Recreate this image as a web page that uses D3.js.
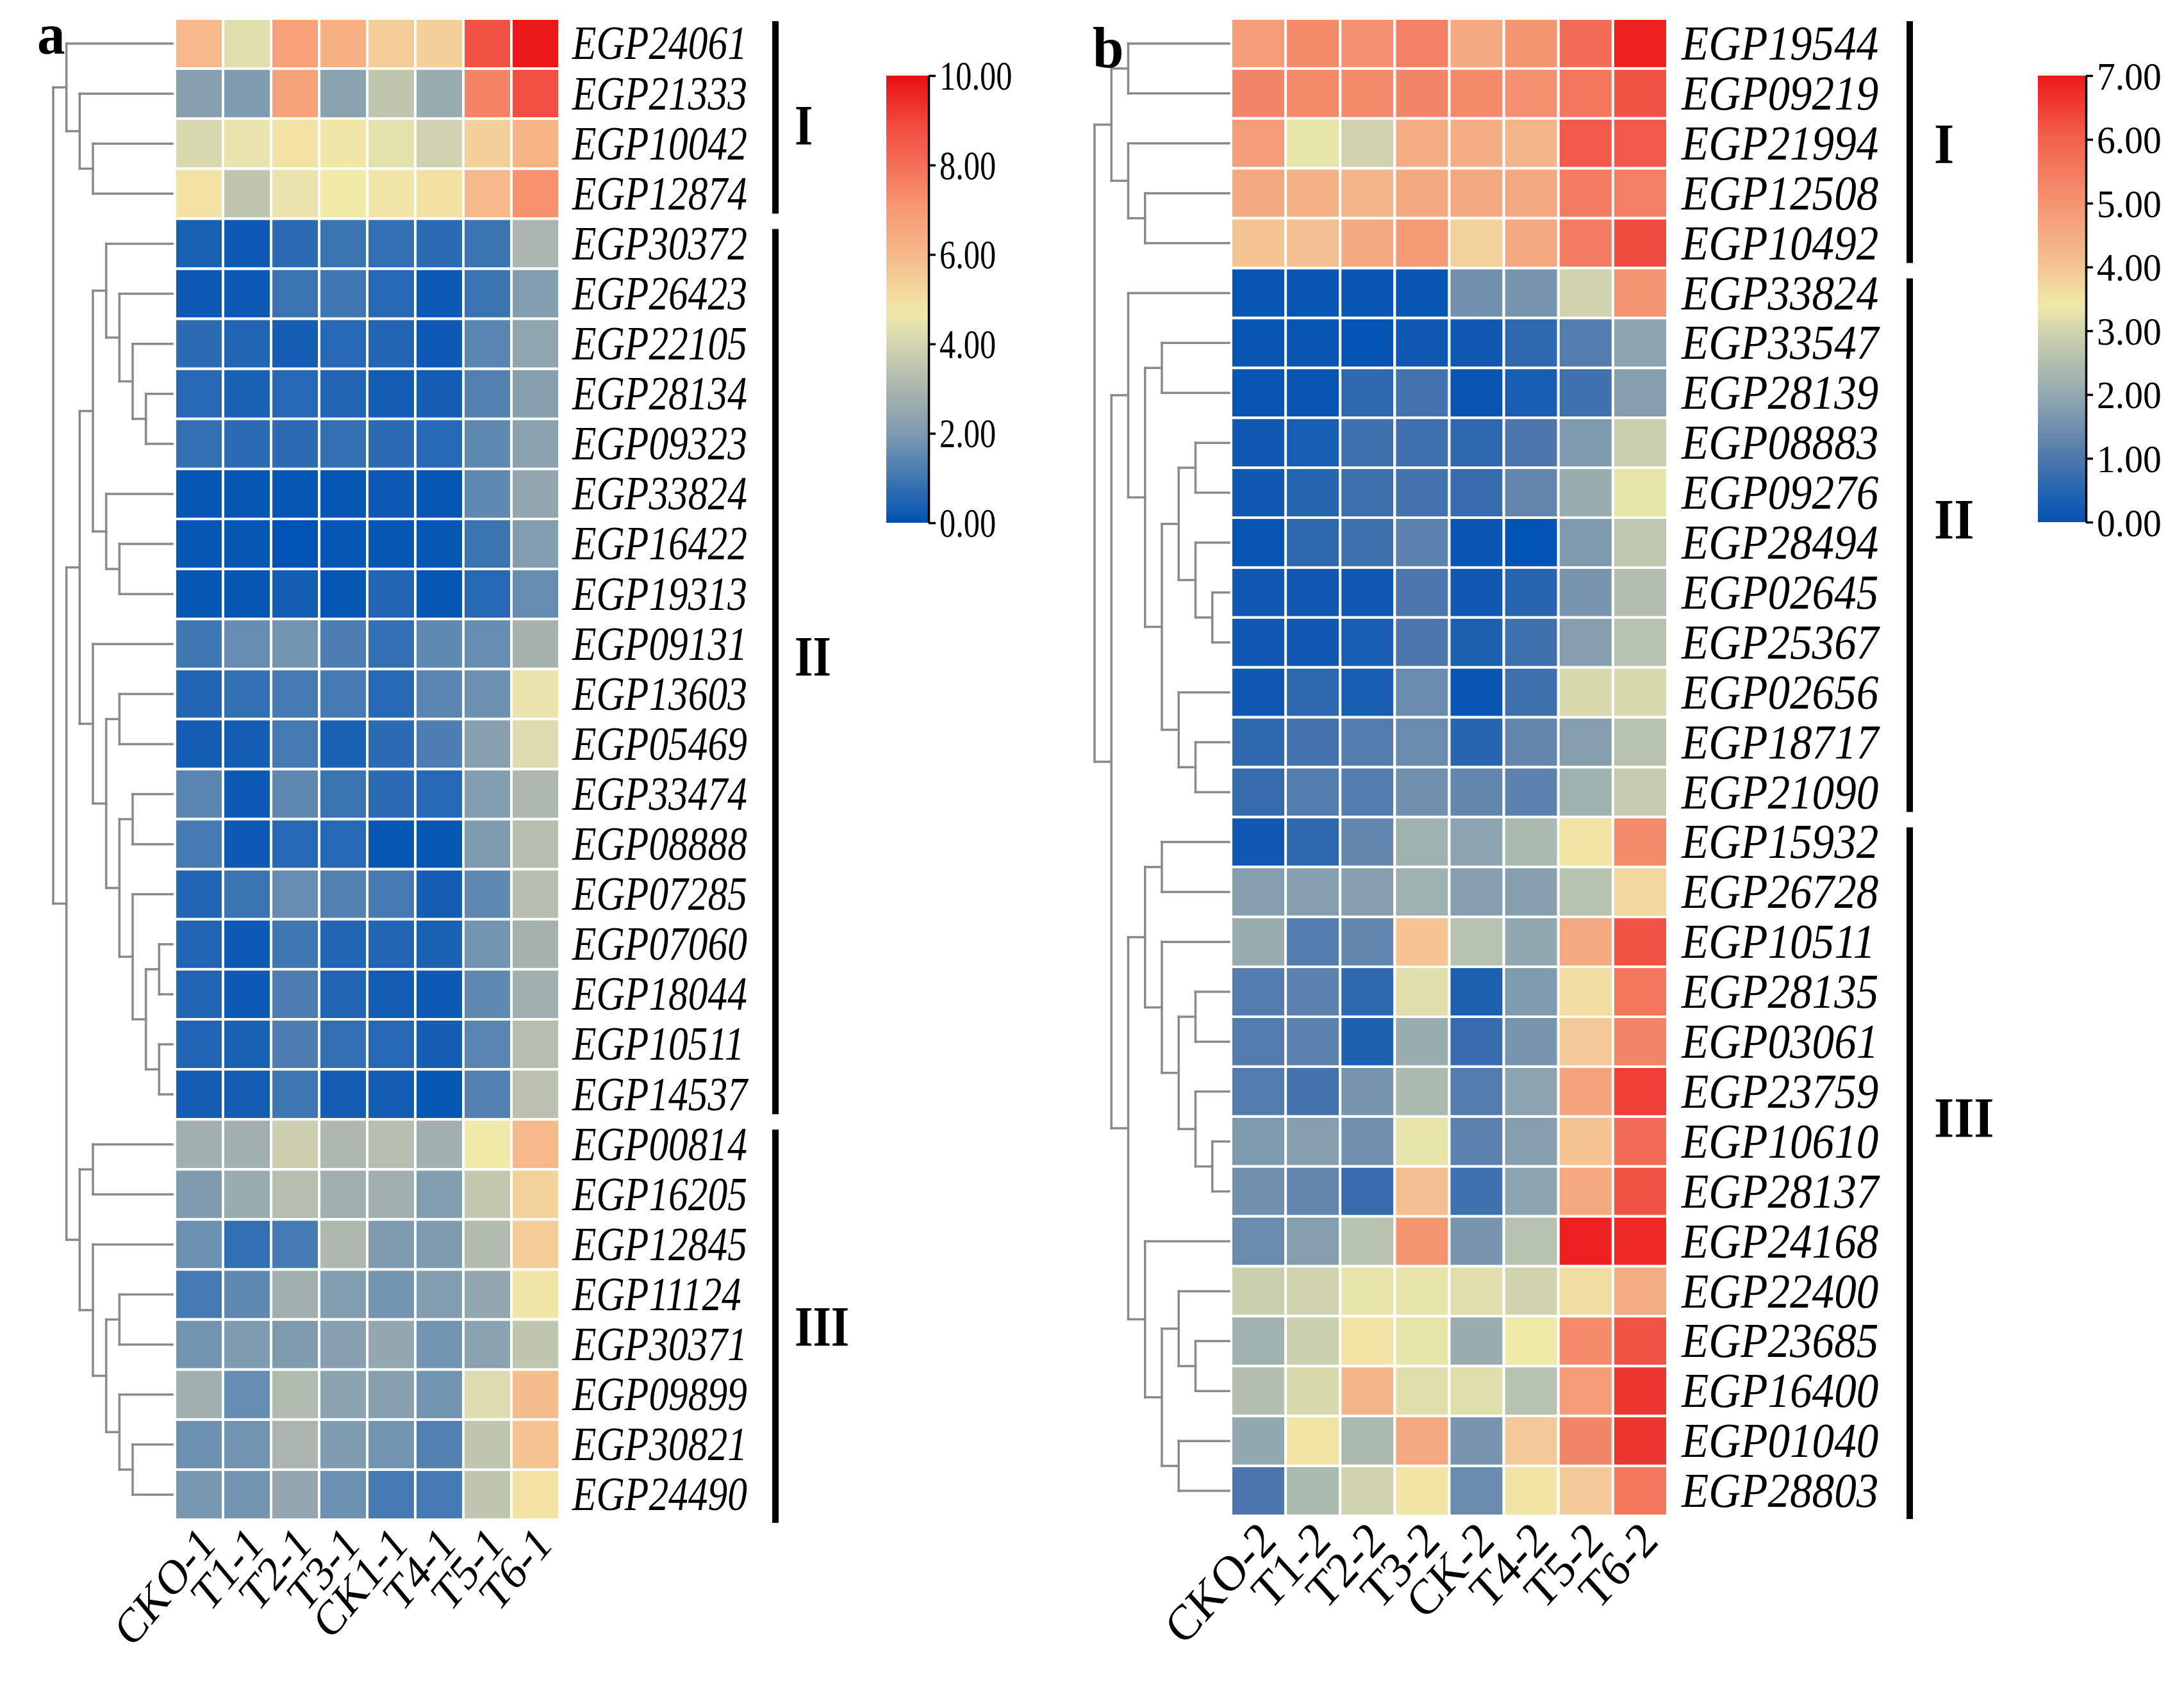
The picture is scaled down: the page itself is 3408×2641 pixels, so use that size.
<!DOCTYPE html>
<html><head><meta charset="utf-8">
<script src="https://cdn.jsdelivr.net/npm/d3@7"></script>
<style>html,body{margin:0;padding:0;background:#fff}</style>
</head><body>
<svg id="chart" width="3408" height="2641" xmlns="http://www.w3.org/2000/svg"></svg>
<script>
// ---------------- DATA ----------------
const genesA = ["EGP24061","EGP21333","EGP10042","EGP12874","EGP30372","EGP26423","EGP22105","EGP28134","EGP09323","EGP33824","EGP16422","EGP19313","EGP09131","EGP13603","EGP05469","EGP33474","EGP08888","EGP07285","EGP07060","EGP18044","EGP10511","EGP14537","EGP00814","EGP16205","EGP12845","EGP11124","EGP30371","EGP09899","EGP30821","EGP24490"];
const samplesA = ["CKO-1","T1-1","T2-1","T3-1","CK1-1","T4-1","T5-1","T6-1"];
const valuesA = [
 [6.0,4.3,6.8,6.3,5.5,5.4,8.7,9.8],
 [2.2,2.0,6.7,2.3,3.5,2.6,7.5,8.8],
 [4.1,4.5,4.9,4.8,4.4,3.9,5.4,6.2],
 [4.9,3.5,4.5,4.7,4.8,5.0,6.0,7.2],
 [0.4,0.2,0.7,0.9,0.8,0.7,0.9,3.0],
 [0.2,0.2,0.9,1.0,0.6,0.2,0.9,2.1],
 [0.7,0.5,0.3,0.6,0.5,0.2,1.4,2.4],
 [0.6,0.4,0.6,0.5,0.3,0.3,1.3,2.2],
 [0.8,0.7,0.7,0.8,0.7,0.6,1.5,2.3],
 [0.1,0.1,0.1,0.1,0.2,0.1,1.5,2.5],
 [0.1,0.1,0.0,0.1,0.1,0.1,0.9,2.1],
 [0.1,0.1,0.3,0.1,0.5,0.1,0.6,1.6],
 [1.0,1.6,1.8,1.2,0.8,1.5,1.6,2.9],
 [0.5,0.8,1.1,1.1,0.6,1.4,1.7,4.5],
 [0.3,0.3,1.1,0.4,0.7,1.2,2.2,4.2],
 [1.4,0.2,1.5,0.9,0.7,0.6,2.1,3.1],
 [1.1,0.2,0.6,0.6,0.1,0.1,2.0,3.3],
 [0.5,0.9,1.6,1.3,1.1,0.3,1.5,3.3],
 [0.5,0.2,1.0,0.5,0.5,0.4,1.8,2.9],
 [0.5,0.2,1.2,0.5,0.3,0.2,1.5,2.8],
 [0.5,0.4,1.2,0.8,0.6,0.3,1.4,3.3],
 [0.3,0.3,1.0,0.3,0.3,0.1,1.3,3.4],
 [2.8,2.8,3.8,3.1,3.3,2.8,4.7,6.0],
 [2.0,2.6,3.3,2.8,2.8,2.1,3.6,5.3],
 [1.7,0.8,1.1,3.1,2.0,2.0,3.2,5.5],
 [1.1,1.5,2.8,2.1,1.8,2.1,2.5,4.8],
 [1.8,2.0,2.0,2.2,2.5,1.8,2.3,3.5],
 [2.8,1.6,3.2,2.3,2.2,1.8,4.2,5.9],
 [1.7,1.8,3.0,2.0,1.8,1.3,3.5,5.8],
 [1.9,1.8,2.5,1.7,1.1,1.1,3.5,4.9]
];
// dendrogram: [level, childA, childB]; leaves are row indices
const treeA = [9,
  [8, 0, [7, 1, [6, 2, 3]]],
  [8,
    [7,
      [6, [5, 4, [4, 5, [3, 6, [2, 7, 8]]]], [5, 9, [4, 10, 11]]],
      [6, 12, [5, [4, 13, 14], [4, [3, 15, 16], [3, 17, [2, [1, 18, 19], [1, 20, 21]]]]]]
    ],
    [7, [6, 22, 23], [6, 24, [5, [4, 25, 26], [4, 27, [3, 28, 29]]]]]
  ]
];
const clustersA = [["I",0,3],["II",4,21],["III",22,29]];
const legendTicksA = [0,2,4,6,8,10];
const colorDomainA = [0,2,3,4,4.7,6,7,8,9,10];
const colorRangeA = ["#0052b4","#7e9bb0","#a9b5ae","#d4d6b0","#f1eaa9","#f5b98b","#f79a73","#f56f58","#f1463b","#e80c10"];

const genesB = ["EGP19544","EGP09219","EGP21994","EGP12508","EGP10492","EGP33824","EGP33547","EGP28139","EGP08883","EGP09276","EGP28494","EGP02645","EGP25367","EGP02656","EGP18717","EGP21090","EGP15932","EGP26728","EGP10511","EGP28135","EGP03061","EGP23759","EGP10610","EGP28137","EGP24168","EGP22400","EGP23685","EGP16400","EGP01040","EGP28803"];
const samplesB = ["CKO-2","T1-2","T2-2","T3-2","CK-2","T4-2","T5-2","T6-2"];
const valuesB = [
 [4.8,5.2,5.1,5.4,4.6,5.0,5.8,6.9],
 [5.3,5.2,5.2,5.3,5.2,5.1,5.6,6.2],
 [4.8,3.3,3.0,4.5,4.5,4.3,6.1,6.1],
 [4.6,4.4,4.3,4.6,4.6,4.6,5.5,5.4],
 [4.0,4.1,4.6,4.9,3.8,4.6,5.5,6.3],
 [0.1,0.1,0.1,0.1,1.5,1.6,3.0,5.0],
 [0.1,0.1,0.05,0.2,0.2,0.6,1.1,1.9],
 [0.1,0.1,0.6,0.9,0.1,0.3,0.8,1.8],
 [0.2,0.3,0.8,0.8,0.6,1.0,1.7,2.9],
 [0.2,0.5,0.8,0.9,0.7,1.3,2.1,3.3],
 [0.1,0.6,0.8,1.2,0.1,0.0,1.7,2.7],
 [0.2,0.2,0.2,1.0,0.2,0.5,1.6,2.5],
 [0.2,0.2,0.3,1.0,0.4,0.8,1.8,2.6],
 [0.2,0.6,0.3,1.4,0.1,0.8,3.1,3.1],
 [0.6,0.9,1.1,1.4,0.5,1.3,1.8,2.6],
 [0.7,1.1,1.1,1.5,1.3,1.2,2.2,2.8],
 [0.2,0.6,1.3,2.2,1.9,2.4,3.5,5.2],
 [1.8,1.8,1.8,2.2,1.8,1.8,2.6,3.7],
 [2.1,1.1,1.3,4.0,2.6,2.0,4.6,6.2],
 [1.1,1.2,0.6,3.2,0.4,1.7,3.6,5.6],
 [1.1,1.2,0.4,2.1,0.7,1.6,3.9,5.3],
 [1.1,0.9,1.6,2.4,1.1,1.9,4.7,6.5],
 [1.7,1.8,1.5,3.3,1.2,1.8,4.0,5.8],
 [1.5,1.3,0.7,4.1,0.8,1.9,4.6,6.2],
 [1.4,1.8,2.6,5.0,1.6,2.6,6.9,6.8],
 [2.9,3.0,3.3,3.3,3.2,3.0,3.6,4.5],
 [2.2,2.9,3.5,3.3,2.1,3.4,5.2,6.2],
 [2.5,3.1,4.3,3.2,3.2,2.6,4.8,6.6],
 [2.0,3.5,2.4,4.6,1.6,3.9,5.3,6.6],
 [1.0,2.4,3.0,3.5,1.4,3.5,3.9,5.6]
];
const treeB = [8,
  [7, [6, 0, 1], [6, 2, [5, 3, 4]]],
  [7,
    [6, 5, [5, [4, 6, 7], [4, [3, [2, 8, 9], [2, 10, [1, 11, 12]]], [3, 13, [2, 14, 15]]]]],
    [6, [5, [4, 16, 17], [4, 18, [3, [2, 19, 20], [2, 21, [1, 22, 23]]]]], [5, 24, [4, [3, 25, [2, 26, 27]], [3, 28, 29]]]]
  ]
];
const clustersB = [["I",0,4],["II",5,15],["III",16,29]];
const legendTicksB = [0,1,2,3,4,5,6,7];
const colorDomainB = [0,1,2,3,3.4,4,5,6,7];
const colorRangeB = ["#0052b4","#4d77ac","#93a9b0","#d0d4ae","#f0eaa8","#f4c493","#f49572","#f2614f","#ec1a1b"];

// ---------------- LAYOUT ----------------
const FONT = "'Liberation Serif','Times New Roman',Times,serif";
const svg = d3.select("#chart");
svg.append("rect").attr("width",3408).attr("height",2641).attr("fill","#fff");

function drawPanel(cfg){
  const g = svg.append("g");
  const nR = cfg.genes.length;
  const x = d3.scaleBand().domain(d3.range(cfg.samples.length)).range([cfg.hx0, cfg.hx1]);
  const y = d3.scaleBand().domain(d3.range(nR)).range([cfg.hy0, cfg.hy1]);
  const color = d3.scaleLinear().domain(cfg.colorDomain).range(cfg.colorRange).interpolate(d3.interpolateRgb).clamp(true);
  const lev = d3.scaleLinear().domain([0, cfg.maxLevel]).range([cfg.leafX, cfg.rootX]);

  // cells
  const cells = [];
  cfg.values.forEach((row,i)=>row.forEach((v,j)=>cells.push({i,j,v})));
  g.append("g").selectAll("rect").data(cells).join("rect")
    .attr("x",d=>x(d.j)).attr("y",d=>y(d.i))
    .attr("width",x.bandwidth()).attr("height",y.bandwidth())
    .attr("fill",d=>color(d.v)).attr("stroke","#fff").attr("stroke-width",4);

  // gene labels
  g.append("g").selectAll("text").data(cfg.genes).join("text")
    .attr("transform",(d,i)=>`translate(${cfg.labelX},${y(i)+y.bandwidth()/2+cfg.fs*0.33}) scale(${cfg.sx},1)`)
    .attr("font-family",FONT).attr("font-style","italic").attr("font-size",cfg.fs).attr("fill","#000")
    .text(d=>d);

  // column labels
  g.append("g").selectAll("text").data(cfg.samples).join("text")
    .attr("transform",(d,j)=>`translate(${x(j)+x.bandwidth()/2+cfg.colDx},${cfg.hy1+cfg.colDy}) scale(${cfg.sx},1) rotate(-45)`)
    .attr("text-anchor","end").attr("font-family",FONT).attr("font-size",cfg.cfs).attr("fill","#000")
    .text(d=>d);

  // dendrogram
  const root = d3.hierarchy(cfg.tree, d => Array.isArray(d) ? d.slice(1) : null);
  root.eachAfter(n=>{
    if(n.children){ n.px = lev(n.data[0]); n.py = d3.mean(n.children,c=>c.py); }
    else { n.px = lev(0); n.py = y(n.data)+y.bandwidth()/2; }
  });
  const segs = [];
  root.each(n=>{
    if(!n.children) return;
    const ys = n.children.map(c=>c.py);
    segs.push([[n.px,d3.min(ys)],[n.px,d3.max(ys)]]);
    n.children.forEach(c=>segs.push([[n.px,c.py],[c.px,c.py]]));
  });
  g.append("g").selectAll("path").data(segs).join("path")
    .attr("d",d=>d3.line()(d)).attr("fill","none").attr("stroke","#8a8a8a").attr("stroke-width",3.5)
    .attr("stroke-linecap","square");

  // cluster bars and numerals
  const last = cfg.clusters.length-1;
  cfg.clusters.forEach((c,k)=>{
    const top = y(c[1]) + (k===0 ? 4 : 16);
    const bot = y(c[2]) + y.bandwidth() + (k===last ? 5 : -8);
    g.append("rect").attr("x",cfg.barX-5).attr("y",top).attr("width",10).attr("height",bot-top).attr("fill","#000");
    const cy = (y(c[1]) + y(c[2]) + y.bandwidth())/2 + cfg.numDy[k];
    g.append("text").attr("transform",`translate(${cfg.numX},${cy+30}) scale(${cfg.sx},1)`)
      .attr("font-family",FONT).attr("font-weight","bold").attr("font-size",88).attr("fill","#000")
      .text(c[0]);
  });

  // colour bar
  const gid = "grad"+cfg.id;
  const grad = svg.append("defs").append("linearGradient").attr("id",gid)
    .attr("x1",0).attr("y1",1).attr("x2",0).attr("y2",0);
  const dmax = d3.max(cfg.legendTicks);
  d3.range(0,1.0001,0.02).forEach(t=>grad.append("stop").attr("offset",t).attr("stop-color",color(t*dmax)));
  g.append("rect").attr("x",cfg.cbX).attr("y",cfg.cbY0).attr("width",cfg.cbW).attr("height",cfg.cbY1-cfg.cbY0)
    .attr("fill",`url(#${gid})`);
  const ls = d3.scaleLinear().domain([0,dmax]).range([cfg.cbY1,cfg.cbY0]);
  const ax = g.append("g").attr("transform",`translate(${cfg.cbX+cfg.cbW},0)`)
    .call(d3.axisRight(ls).tickValues(cfg.legendTicks).tickSize(11).tickSizeOuter(0).tickFormat(d3.format(".2f")));
  ax.select(".domain").attr("stroke","#000").attr("stroke-width",3.5);
  ax.selectAll(".tick line").attr("stroke","#000").attr("stroke-width",3.5);
  ax.selectAll(".tick text").attr("x",null).attr("dy",null)
    .attr("transform",`translate(17,${cfg.lfs*0.34}) scale(${cfg.lsx},1)`)
    .attr("font-family",FONT).attr("font-size",cfg.lfs).attr("fill","#000");

  // panel letter
  g.append("text").attr("transform",`translate(${cfg.letterX},${cfg.letterY}) scale(0.95,1)`)
    .attr("font-family",FONT).attr("font-weight","bold").attr("font-size",92).attr("fill","#000").text(cfg.letter);
}

drawPanel({id:"A", genes:genesA, samples:samplesA, values:valuesA, tree:treeA, maxLevel:9, clusters:clustersA,
  colorDomain:colorDomainA, colorRange:colorRangeA, legendTicks:legendTicksA,
  hx0:273, hx1:873, hy0:29, hy1:2372, leafX:269, rootX:83,
  labelX:893, fs:74, cfs:77, sx:0.83, colDx:28, colDy:42,
  barX:1210, numX:1240, numDy:[10,-20,10],
  cbX:1383, cbW:66, cbY0:118, cbY1:816, lfs:63, lsx:0.8,
  letter:"a", letterX:58, letterY:84});

drawPanel({id:"B", genes:genesB, samples:samplesB, values:valuesB, tree:treeB, maxLevel:8, clusters:clustersB,
  colorDomain:colorDomainB, colorRange:colorRangeB, legendTicks:legendTicksB,
  hx0:1921, hx1:2602, hy0:29, hy1:2366, leafX:1918, rootX:1708,
  labelX:2624, fs:76, cfs:78, sx:0.91, colDx:31, colDy:42,
  barX:2980, numX:3018, numDy:[0,-37,-77],
  cbX:3180, cbW:75, cbY0:118, cbY1:815, lfs:62, lsx:0.93,
  letter:"b", letterX:1705, letterY:105});
</script>
</body></html>
